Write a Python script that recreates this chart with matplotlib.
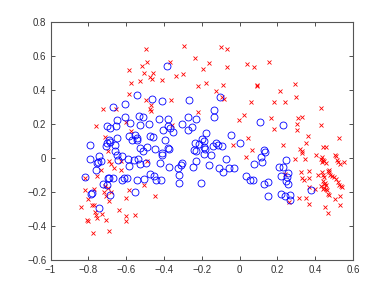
import matplotlib
matplotlib.use("Agg")
import matplotlib.pyplot as plt

# blue circles (class 1)
blue_x = [
    -0.383, -0.540, -0.462, -0.411, -0.268, -0.667, -0.608, -0.531, -0.511, -0.606,
    -0.649, -0.425, -0.381, -0.582, -0.525, -0.478, -0.702, -0.652, -0.684, -0.379,
    -0.367, -0.302, -0.273, -0.252, -0.229, -0.407, -0.351, -0.273, -0.585, -0.553,
    -0.543, -0.568, -0.540, -0.647, -0.476, -0.458, -0.393, -0.793, -0.693, -0.702,
    -0.684, -0.661, -0.705, -0.525, -0.488, -0.446, -0.381, -0.372,
    -0.102, -0.134, -0.134, 0.108, 0.231, -0.178, -0.044, 0.005,
    -0.200, -0.187, -0.237, -0.216, -0.190, -0.138, -0.123, -0.112, -0.093,
    -0.243, -0.229, -0.181, -0.312, -0.441,
    -0.659, -0.650, -0.746, -0.790, -0.756, -0.731, -0.751, -0.761, -0.696, -0.688,
    -0.702, -0.721, -0.815, -0.779, -0.784, -0.684, -0.746, -0.667, -0.643, -0.621,
    -0.591, -0.584, -0.621, -0.610, -0.596, -0.552, -0.541, -0.503, -0.497, -0.529,
    -0.557, -0.538, -0.513, -0.476, -0.453, -0.414, -0.423, -0.409, -0.411, -0.374,
    -0.326, -0.321, -0.321, -0.303,
    -0.190, -0.150, -0.231, -0.247, -0.160, -0.109, -0.090, -0.069, -0.054, -0.028,
    -0.204, 0.032, 0.057, 0.069, 0.074, 0.115, 0.118, 0.131, 0.136, 0.129,
    0.153, 0.150, 0.208, 0.229, 0.219, 0.245, 0.254, 0.251, 0.247, 0.254,
    0.219, 0.240, 0.265, 0.268, 0.376,
]
blue_y = [
    0.543, 0.371, 0.349, 0.337, 0.343, 0.304, 0.318, 0.251, 0.243, 0.243,
    0.222, 0.228, 0.229, 0.206, 0.194, 0.200, 0.188, 0.188, 0.175, 0.188,
    0.180, 0.200, 0.245, 0.186, 0.229, 0.165, 0.153, 0.165, 0.131, 0.135,
    0.119, 0.106, 0.106, 0.119, 0.129, 0.124, 0.110, 0.081, 0.110, 0.090,
    0.096, 0.081, 0.071, 0.059, 0.066, 0.055, 0.061, 0.052,
    0.361, 0.284, 0.241, 0.212, 0.196, 0.149, 0.139, 0.090,
    0.115, 0.103, 0.090, 0.084, 0.068, 0.072, 0.090, 0.078, 0.071,
    0.049, 0.045, 0.053, -0.040, -0.129,
    0.041, 0.022, 0.012, -0.006, -0.028, -0.016, -0.022, -0.067, -0.114, -0.114,
    -0.159, -0.153, -0.112, -0.204, -0.208, -0.214, -0.292, -0.114, -0.008, 0.012,
    -0.002, -0.045, -0.125, -0.114, -0.114, -0.198, -0.125, -0.120, -0.028, -0.031,
    -0.008, -0.002, 0.043, -0.090, -0.106, -0.125, -0.025, 0.033, 0.018, -0.053,
    -0.057, -0.100, -0.143, -0.030,
    0.028, 0.018, -0.018, -0.053, -0.039, -0.055, -0.080, -0.004, -0.055, -0.057,
    -0.145, -0.106, -0.129, -0.125, -0.033, 0.008, -0.022, 0.047, 0.037, -0.153,
    -0.141, -0.222, -0.051, -0.051, -0.104, -0.008, -0.084, -0.110, -0.135, -0.153,
    -0.212, -0.224, -0.218, -0.243, -0.186,
]

# red crosses (class 2)
red_x = [
    -0.494, -0.294, -0.585, -0.516, -0.488, -0.507, -0.458, -0.474, -0.464, -0.525,
    -0.411, -0.337, -0.298, -0.367, -0.233, -0.573, -0.222, -0.584, -0.495, -0.361,
    -0.467, -0.472, -0.469, -0.724, -0.656, -0.222, -0.761, -0.603, -0.576, -0.358,
    -0.714,
    -0.097, -0.067, -0.159, -0.194, -0.067, 0.041, 0.076, 0.157, -0.180, -0.088,
    -0.127, 0.092, 0.094, 0.296, 0.214, 0.298, -0.092, -0.083, 0.062, 0.182,
    0.238, 0.429, 0.025, -0.002, 0.168, 0.307, 0.328, 0.304, 0.182, 0.305,
    0.432, 0.362, 0.046, 0.528, 0.353, -0.033, 0.228, 0.439, 0.460,
    -0.698, -0.689, -0.679, -0.666, -0.628, -0.628, -0.733, -0.753, -0.820, -0.712,
    -0.696, -0.772, -0.815, -0.716, -0.679, -0.705, -0.585, -0.603, -0.804, -0.693,
    -0.448, -0.507, -0.488, -0.778, -0.770, -0.838, -0.730, -0.765, -0.761, -0.753,
    -0.638, -0.601, -0.552, -0.709, -0.806, -0.801, -0.601, -0.693, -0.774,
    0.067, 0.034, 0.321, 0.328, 0.291, 0.333, 0.344, 0.325, 0.367, 0.332,
    0.342, 0.365, 0.369, 0.242, 0.261, 0.314, 0.351, 0.369, 0.407, 0.413,
    0.399, 0.432, 0.441, 0.436, 0.436, 0.448, 0.455, 0.471, 0.466,
    0.436, 0.441, 0.448, 0.443, 0.452, 0.445, 0.460, 0.448, 0.457, 0.462, 0.468,
    0.432, 0.441,
    0.473, 0.476, 0.489, 0.500, 0.510, 0.520, 0.528, 0.536, 0.540,
    0.503, 0.512, 0.513, 0.521, 0.529, 0.552,
    0.471, 0.533, 0.506, 0.450, 0.468, 0.533,
]
red_y = [
    0.641, 0.659, 0.518, 0.543, 0.565, 0.502, 0.498, 0.475, 0.467, 0.455,
    0.459, 0.484, 0.496, 0.567, 0.586, 0.441, 0.425, 0.380, 0.343, 0.343,
    0.312, 0.292, 0.276, 0.290, 0.292, 0.272, 0.192, 0.216, 0.163, 0.198,
    0.124,
    0.653, 0.639, 0.559, 0.525, 0.537, 0.553, 0.537, 0.567, 0.443, 0.433,
    0.396, 0.433, 0.422, 0.435, 0.396, 0.361, 0.361, 0.349, 0.329, 0.333,
    0.333, 0.298, 0.253, 0.222, 0.239, 0.239, 0.245, 0.204, 0.173, 0.167,
    0.194, 0.133, 0.122, 0.122, 0.092, 0.078, 0.076, 0.066, 0.066,
    0.043, -0.016, -0.031, -0.057, -0.018, -0.071, -0.071, -0.106, -0.114, -0.163,
    -0.175, -0.178, -0.188, -0.198, -0.198, -0.222, -0.184, -0.233, -0.237, -0.249,
    -0.222, -0.155, -0.016, -0.276, -0.276, -0.284, -0.325, -0.318, -0.331, -0.349,
    -0.302, -0.337, -0.333, -0.363, -0.363, -0.367, -0.369, -0.424, -0.437,
    0.051, 0.008, 0.057, 0.041, -0.002, 0.033, -0.006, -0.078, -0.076, -0.116,
    -0.128, -0.114, -0.169, -0.090, -0.255, -0.231, -0.231, -0.271, 0.022, -0.098,
    -0.178, -0.004, -0.010, 0.008, -0.022, -0.018, -0.028, -0.071, -0.075,
    -0.080, -0.096, -0.110, -0.133, -0.143, -0.150, -0.159, -0.172, -0.178, -0.188, -0.210,
    -0.160, -0.180,
    -0.080, -0.096, -0.104, -0.112, -0.122, -0.139, -0.155, -0.160, -0.169,
    0.022, 0.014, -0.010, -0.021, -0.031, -0.021,
    -0.218, -0.222, -0.241, -0.284, -0.320, -0.276,
]

x_ticks = [-1, -0.8, -0.6, -0.4, -0.2, 0, 0.2, 0.4, 0.6]
y_ticks = [-0.6, -0.4, -0.2, 0, 0.2, 0.4, 0.6, 0.8]


def fmt(v):
    s = ("%g" % v)
    return s.replace("-", "\u2212")


def main():
    plt.rcParams['font.family'] = ['Liberation Sans', 'DejaVu Sans']
    fig = plt.figure(figsize=(3.9, 2.94), dpi=100)
    ax = fig.add_axes([0.1295, 0.114, 0.7755, 0.811])

    ax.plot(red_x, red_y, 'x', color=(1, 0, 0), markersize=3.2, markeredgewidth=0.6)
    ax.plot(blue_x, blue_y, 'o', color=(0, 0, 1), markerfacecolor='none',
            markersize=5, markeredgewidth=0.6)

    ax.set_xlim(-1, 0.6)
    ax.set_ylim(-0.6, 0.8)
    ax.set_xticks(x_ticks)
    ax.set_yticks(y_ticks)
    ax.set_xticklabels([fmt(v) for v in x_ticks])
    ax.set_yticklabels([fmt(v) for v in y_ticks])
    ax.tick_params(direction='in', top=True, right=True, length=3, width=0.6,
                   labelsize=7, colors='#333333', pad=3)
    for sp in ax.spines.values():
        sp.set_linewidth(0.8)
        sp.set_color('#555555')

    fig.savefig("out.png", dpi=100)
    plt.close(fig)


if __name__ == "__main__":
    main()
